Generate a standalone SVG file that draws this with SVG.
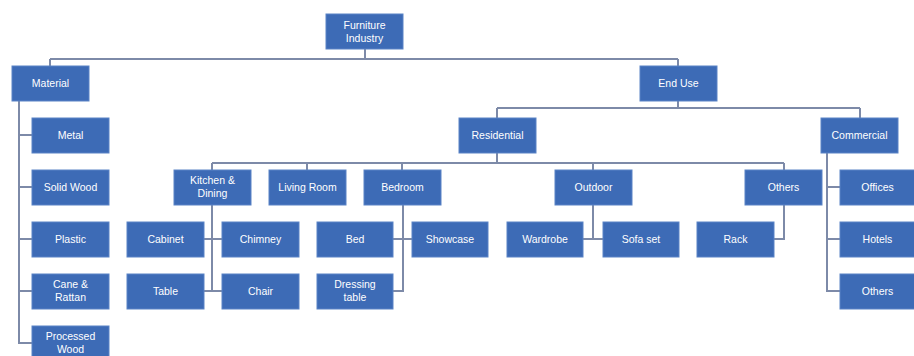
<svg xmlns="http://www.w3.org/2000/svg" width="914" height="356" viewBox="0 0 914 356">
<style>
.b{fill:#3d6bb6;stroke:#5a83c6;stroke-width:1}
.t{fill:#fff;font-family:"Liberation Sans",Arial,sans-serif;font-size:10.5px;text-anchor:middle}
.c{fill:none;stroke:#7d8aa8;stroke-width:2}
</style>
<rect width="914" height="356" fill="#ffffff"/>
<g id="connectors" class="c">
<path d="M365 49V59M50 59H678M50 59V66M678 59V66"/>
<path d="M19 101V343H32M19 135H32M19 187H32M19 239H32M19 291H32"/>
<path d="M678 101V108M497 108H860M497 108V118M860 108V118"/>
<path d="M497 153V163M212 163H784M212 163V170M307 163V170M402 163V170M593 163V170M784 163V170"/>
<path d="M827 153V291H840M827 187H840M827 239H840"/>
<path d="M212 205V291M204 239H222M204 291H222"/>
<path d="M403 205V291H393M393 239H412"/>
<path d="M593 205V239M583 239H603"/>
<path d="M784 205V239H774"/>
</g>
<g id="n-furniture"><rect class="b" x="326" y="14" width="77" height="35"/><text class="t" x="364.5" y="29">Furniture</text><text class="t" x="364.5" y="42">Industry</text></g>
<g id="n-material"><rect class="b" x="12" y="66" width="77" height="35"/><text class="t" x="50.5" y="87">Material</text></g>
<g id="n-metal"><rect class="b" x="32" y="118" width="77" height="35"/><text class="t" x="70.5" y="139">Metal</text></g>
<g id="n-solidwood"><rect class="b" x="32" y="170" width="77" height="35"/><text class="t" x="70.5" y="191">Solid Wood</text></g>
<g id="n-plastic"><rect class="b" x="32" y="222" width="77" height="35"/><text class="t" x="70.5" y="243">Plastic</text></g>
<g id="n-cane"><rect class="b" x="32" y="274" width="77" height="35"/><text class="t" x="70.5" y="288">Cane &amp;</text><text class="t" x="70.5" y="301">Rattan</text></g>
<g id="n-processed"><rect class="b" x="32" y="326" width="77" height="35"/><text class="t" x="70.5" y="340">Processed</text><text class="t" x="70.5" y="353">Wood</text></g>
<g id="n-enduse"><rect class="b" x="640" y="66" width="77" height="35"/><text class="t" x="678.5" y="87">End Use</text></g>
<g id="n-residential"><rect class="b" x="459" y="118" width="77" height="35"/><text class="t" x="497.5" y="139">Residential</text></g>
<g id="n-commercial"><rect class="b" x="821" y="118" width="77" height="35"/><text class="t" x="859.5" y="139">Commercial</text></g>
<g id="n-kitchen"><rect class="b" x="174" y="170" width="77" height="35"/><text class="t" x="212.5" y="184">Kitchen &amp;</text><text class="t" x="212.5" y="197">Dining</text></g>
<g id="n-living"><rect class="b" x="269" y="170" width="77" height="35"/><text class="t" x="307.5" y="191">Living Room</text></g>
<g id="n-bedroom"><rect class="b" x="364" y="170" width="77" height="35"/><text class="t" x="402.5" y="191">Bedroom</text></g>
<g id="n-outdoor"><rect class="b" x="555" y="170" width="77" height="35"/><text class="t" x="593.5" y="191">Outdoor</text></g>
<g id="n-others-res"><rect class="b" x="745" y="170" width="77" height="35"/><text class="t" x="783.5" y="191">Others</text></g>
<g id="n-offices"><rect class="b" x="840" y="170" width="75" height="35"/><text class="t" x="877.5" y="191">Offices</text></g>
<g id="n-hotels"><rect class="b" x="840" y="222" width="75" height="35"/><text class="t" x="877.5" y="243">Hotels</text></g>
<g id="n-others-com"><rect class="b" x="840" y="274" width="75" height="35"/><text class="t" x="877.5" y="295">Others</text></g>
<g id="n-cabinet"><rect class="b" x="127" y="222" width="77" height="35"/><text class="t" x="165.5" y="243">Cabinet</text></g>
<g id="n-chimney"><rect class="b" x="222" y="222" width="77" height="35"/><text class="t" x="260.5" y="243">Chimney</text></g>
<g id="n-table"><rect class="b" x="127" y="274" width="77" height="35"/><text class="t" x="165.5" y="295">Table</text></g>
<g id="n-chair"><rect class="b" x="222" y="274" width="77" height="35"/><text class="t" x="260.5" y="295">Chair</text></g>
<g id="n-bed"><rect class="b" x="317" y="222" width="76" height="35"/><text class="t" x="355" y="243">Bed</text></g>
<g id="n-showcase"><rect class="b" x="412" y="222" width="76" height="35"/><text class="t" x="450" y="243">Showcase</text></g>
<g id="n-dressing"><rect class="b" x="317" y="274" width="76" height="35"/><text class="t" x="355" y="288">Dressing</text><text class="t" x="355" y="301">table</text></g>
<g id="n-wardrobe"><rect class="b" x="507" y="222" width="76" height="35"/><text class="t" x="545" y="243">Wardrobe</text></g>
<g id="n-sofa"><rect class="b" x="603" y="222" width="76" height="35"/><text class="t" x="641" y="243">Sofa set</text></g>
<g id="n-rack"><rect class="b" x="697" y="222" width="77" height="35"/><text class="t" x="735.5" y="243">Rack</text></g>
</svg>
